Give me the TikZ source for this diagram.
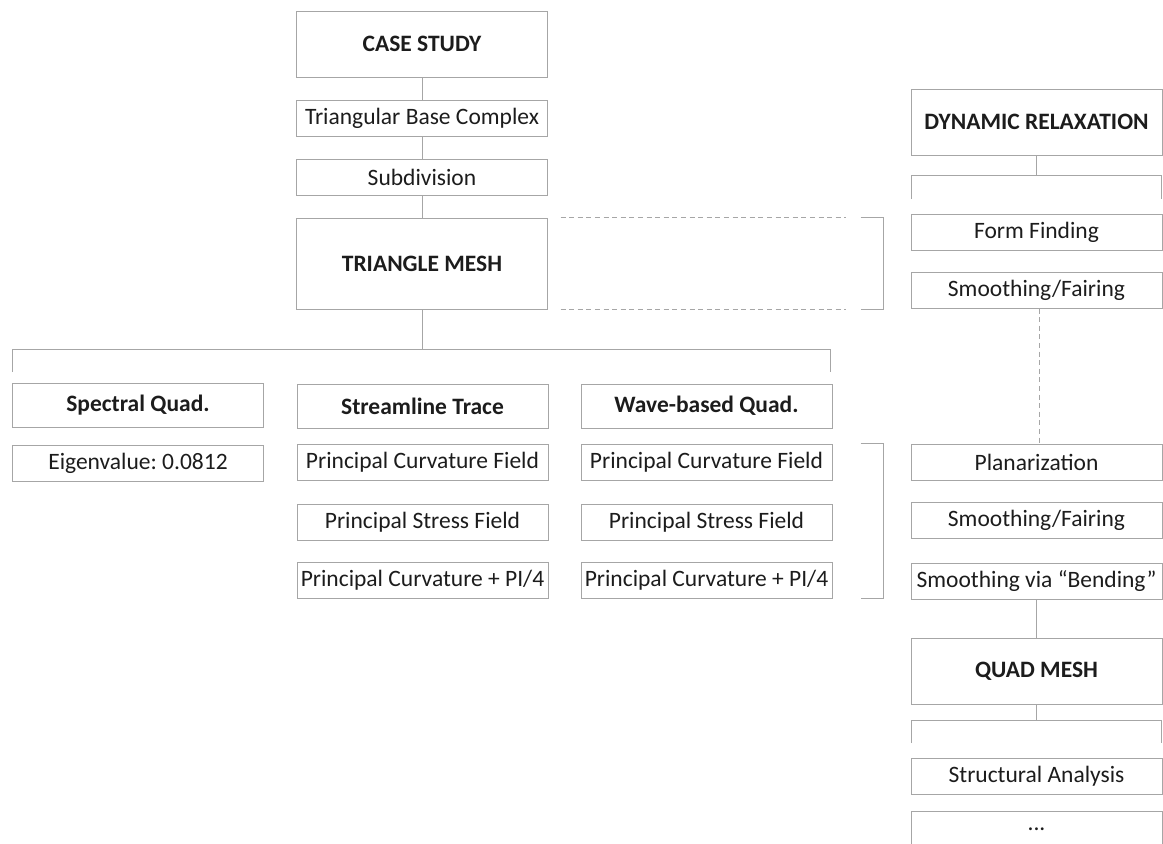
\documentclass[tikz,border=0pt]{standalone}
\usepackage{fontspec}
\setmainfont{Carlito}
\usetikzlibrary{positioning}
\definecolor{linegray}{HTML}{A6A6A6}
\definecolor{textdark}{HTML}{1C1C1C}
\frenchspacing

\begin{document}
\begin{tikzpicture}[x=1pt, y=-1pt,
    box/.style = {draw=linegray, line width=1pt, minimum width=251pt, minimum height=36pt, inner sep=0pt, text=textdark, font=\fontsize{23.5}{28}\selectfont},
    head/.style = {box, minimum height=66pt, font=\fontsize{23.5}{28}\selectfont\bfseries},
    conn/.style = {draw=linegray, line width=1pt},
    dashline/.style = {dash pattern=on 5pt off 3.6pt}]
    \useasboundingbox (0,0) rectangle (1163,844);

    \node[head] (cs) at (422,44)                    {CASE STUDY};
    \node[box] (tbc) [below=22pt of cs]             {Triangular Base Complex};
    \node[box] (sub) [below=22pt of tbc]            {Subdivision};
    \node[head, minimum height=91pt] (tm) [below=22pt of sub] {TRIANGLE MESH};

    \node[head, minimum height=44pt] (sq) at (138,405)   {Spectral Quad.};
    \node[box] (eig) [below=17pt of sq]             {Eigenvalue: 0.0812};

    \node[head, minimum height=44pt] (st) at (422.5,406) {Streamline Trace};
    \node[box] (st1) [below=15pt of st]             {Principal Curvature Field};
    \node[box] (st2) [below=23pt of st1]            {Principal Stress Field};
    \node[box] (st3) [below=21pt of st2]            {Principal Curvature + PI/4};

    \node[head, minimum height=44pt] (wq) at (706.5,406) {Wave-based Quad.};
    \node[box] (wq1) [below=15pt of wq]             {Principal Curvature Field};
    \node[box] (wq2) [below=23pt of wq1]            {Principal Stress Field};
    \node[box] (wq3) [below=21pt of wq2]            {Principal Curvature + PI/4};

    \node[head] (dr) at (1036.5,122)                {DYNAMIC RELAXATION};
    \node[box] (ff) at (1036.5,232)                 {Form Finding};
    \node[box] (sf1) [below=21pt of ff]             {Smoothing/Fairing};
    \node[box] (pl) at (1036.5,462)                 {Planarization};
    \node[box] (sf2) [below=21pt of pl]             {Smoothing/Fairing};
    \node[box] (bd) [below=24pt of sf2]             {Smoothing via “Bending”};
    \node[head] (qm) [below=38pt of bd]             {QUAD MESH};
    \node[box] (sa) at (1036.5,776)                 {Structural Analysis};
    \node[box] (etc) [below=16pt of sa]             {...};

    \draw[conn] (cs) -- (tbc);
    \draw[conn] (tbc) -- (sub);
    \draw[conn] (sub) -- (tm);

    \coordinate (tmL) at (12,349);
    \coordinate (tmR) at (830,349);
    \draw[conn] (tm.south) -- (tm.south |- tmL);
    \draw[conn] ([yshift=-23pt]tmL) -- (tmL) -- (tmR) -- ([yshift=-23pt]tmR);

    \draw[conn, dashline] ([xshift=12.5pt]tm.north east) -- ([xshift=297.5pt]tm.north east);
    \draw[conn, dashline] ([xshift=12.5pt]tm.south east) -- ([xshift=297.5pt]tm.south east);
    \draw[conn] ([xshift=312.5pt]tm.north east) -- ([xshift=335.5pt]tm.north east)
        -- ([xshift=335.5pt]tm.south east) -- ([xshift=312.5pt]tm.south east);
    \draw[conn] ([xshift=28pt]wq1.north east) -- ([xshift=51pt]wq1.north east)
        -- ([xshift=51pt]wq3.south east) -- ([xshift=28pt]wq3.south east);

    \coordinate (drL) at (911,175);
    \coordinate (drR) at (1161,175);
    \draw[conn] (dr.south) -- (dr.south |- drL);
    \draw[conn] ([yshift=-24pt]drL) -- (drL) -- (drR) -- ([yshift=-24pt]drR);
    \draw[conn, dashline] ([xshift=2.5pt]sf1.south) -- ([xshift=2.5pt]pl.north);
    \draw[conn] (bd) -- (qm);

    \coordinate (qmL) at (911,720);
    \coordinate (qmR) at (1161,720);
    \draw[conn] (qm.south) -- (qm.south |- qmL);
    \draw[conn] ([yshift=-23pt]qmL) -- (qmL) -- (qmR) -- ([yshift=-23pt]qmR);
\end{tikzpicture}
\end{document}
